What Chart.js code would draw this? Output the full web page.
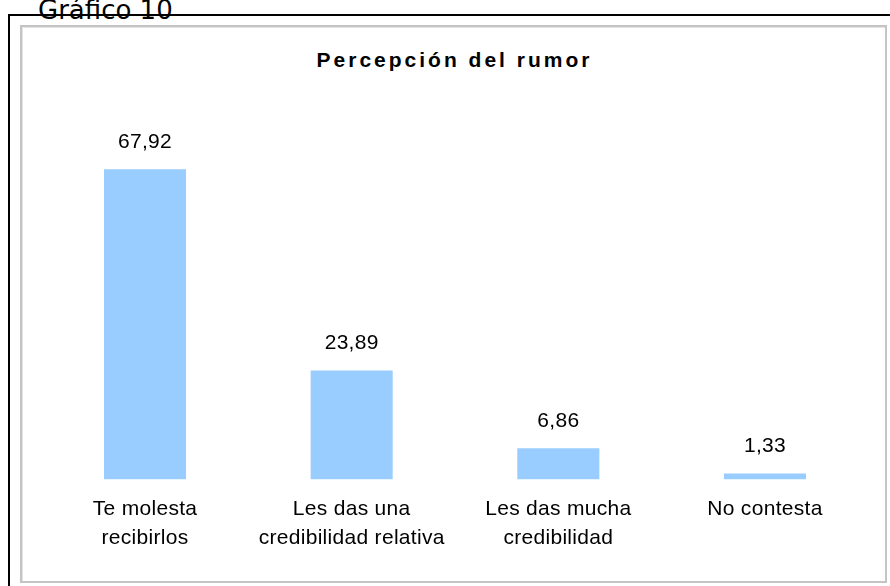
<!DOCTYPE html>
<html>
<head>
<meta charset="utf-8">
<script src="https://cdn.jsdelivr.net/npm/chart.js@4/dist/chart.umd.min.js"></script>
<style>
    html, body { margin: 0; padding: 0; width: 890px; height: 586px; overflow: hidden; background: #fff; }
    #caption { position: absolute; left: 38px; top: -3px; font-family: 'DejaVu Sans', Verdana, sans-serif; font-size: 26px; line-height: 26px; color: #000; white-space: nowrap; }
    #frame { position: absolute; left: 8px; top: 14px; width: 900px; height: 600px; border-top: 2px solid #000; border-left: 2px solid #000; }
    #box { position: absolute; left: 20px; top: 25px; width: 867px; height: 558px; box-sizing: border-box; border: 2px solid #c4c4c4; box-shadow: inset 1px 1px 0 #e4e4e4; }
    #title { position: absolute; left: 21px; width: 867px; top: 48px; text-align: center; font-family: 'Liberation Sans', Arial, sans-serif; font-weight: bold; font-size: 21px; letter-spacing: 3px; line-height: 24px; color: #000; }
    #myChart { position: absolute; left: 0; top: 0; }
</style>
</head>
<body>
<div id="caption">Gráfico 10</div>
<div id="frame"></div>
<div id="box"></div>
<div id="title">Percepción del rumor</div>
<canvas id="myChart" width="890" height="586"></canvas>
<script>
// chart data
const categories = [
    ['Te molesta', 'recibirlos'],
    ['Les das una', 'credibilidad relativa'],
    ['Les das mucha', 'credibilidad'],
    ['No contesta']
];
const values = [67.92, 23.89, 6.86, 1.33];

// draws the value above every bar
const valueLabels =
{
    id: 'valueLabels',
    beforeDraw: function(chart)
    {
        chart.ctx.letterSpacing = '0.3px';
    },
    afterDatasetsDraw: function(chart)
    {
        const ctx = chart.ctx;
        const meta = chart.getDatasetMeta(0);
        ctx.save();
        ctx.font = '21px "Liberation Sans", Arial, sans-serif';
        ctx.fillStyle = '#000';
        ctx.textAlign = 'center';
        ctx.textBaseline = 'alphabetic';
        meta.data.forEach(function(bar, i)
        {
            const text = values[i].toFixed(2).replace('.', ',');
            ctx.fillText(text, bar.x, bar.y - 21);
        });
        ctx.restore();
    }
};

let myChart = document.getElementById('myChart').getContext('2d');

let chart_1 = new Chart(myChart,
{
    type: 'bar',
    data:
    {
        labels: categories,
        datasets:
        [{
            data: values,
            backgroundColor: '#99CCFF',
            borderWidth: 0,
            barPercentage: 0.397,
            categoryPercentage: 1
        }]
    },
    options:
    {
        responsive: false,
        animation: false,
        layout:
        {
            padding: {left: 41.7, right: 21.7, top: 114, bottom: 17.5}
        },
        plugins:
        {
            legend: {display: false},
            tooltip: {enabled: false},
            title: {display: false}
        },
        scales:
        {
            y:
            {
                display: false,
                min: 0,
                max: 80
            },
            x:
            {
                grid: {display: false, drawTicks: false},
                border: {display: false},
                ticks:
                {
                    color: '#000',
                    padding: 15.5,
                    maxRotation: 0,
                    autoSkip: false,
                    font: {family: '"Liberation Sans", Arial, sans-serif', size: 21, lineHeight: 1.38}
                }
            }
        }
    },
    plugins: [valueLabels]
});
</script>
</body>
</html>
